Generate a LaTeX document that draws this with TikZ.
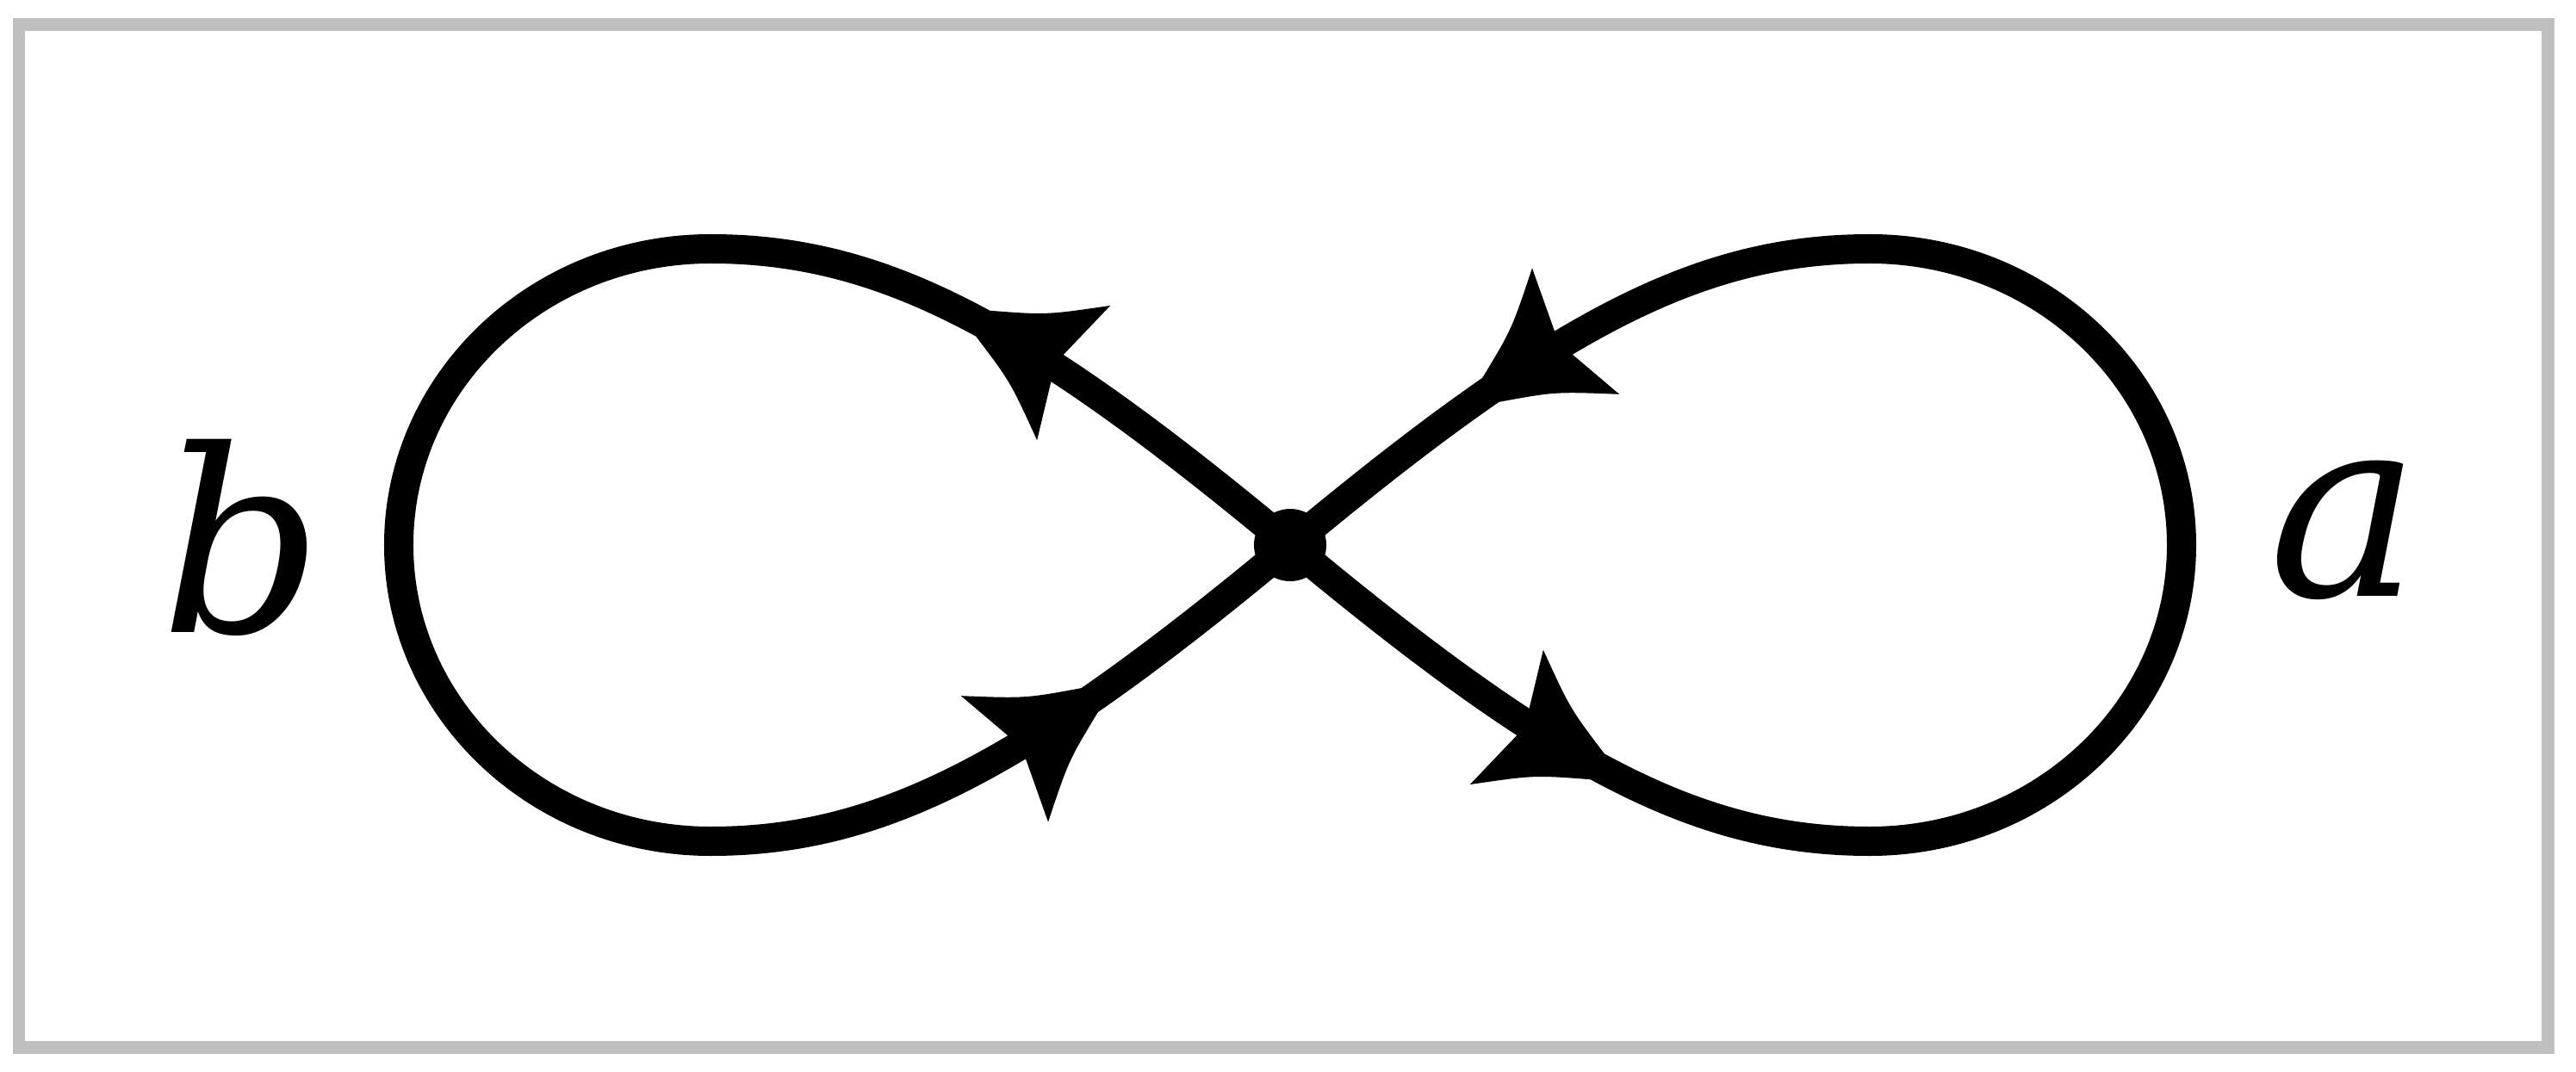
\documentclass[tikz,border=0pt]{standalone}
\usepackage{fontspec}
\newfontfamily\lblfont{DejaVu Serif}
\usetikzlibrary{decorations.markings}

\definecolor{boxgray}{RGB}{191,191,191}

\newcommand{\loophead}{\path[fill=black] (0.05,0) -- (0,0.17) .. controls (-0.6,0.44) .. (-1.2,0.89) -- (-0.96,0) -- (-1.2,-0.89) .. controls (-0.6,-0.44) .. (0,-0.17) -- cycle;}

\begin{document}
\begin{tikzpicture}[
    edge/.style={line width=0.34cm},
    vertex/.style={circle,fill=black,inner sep=0pt,minimum size=0.84cm},
    lbl/.style={font=\fontsize{84}{90}\lblfont\itshape}
  ]

    \useasboundingbox (-14.98,-6.11) rectangle (14.93,6.33);
    \draw[boxgray,line width=0.145cm] (-14.76,6.045) rectangle (14.605,-5.835);

    \node[vertex] (v) at (0,0) {};
    \node[lbl] (b) at (-12.17,0.09) {b};
    \node[lbl] (a) at (12.24,0.17) {a};

    \draw[edge,postaction={decorate},decoration={markings,
        mark=at position 0.166 with {\loophead},
        mark=at position 0.889 with {\loophead}}]
        (v.center) .. controls (-3.06,2.55) and (-4.73,3.44) .. (-6.73,3.44)
        arc[start angle=90,end angle=270,x radius=3.62,y radius=3.44]
        .. controls (-4.73,-3.44) and (-3.06,-2.55) .. (v.center);

    \draw[edge,postaction={decorate},decoration={markings,
        mark=at position 0.166 with {\loophead},
        mark=at position 0.889 with {\loophead}}]
        (v.center) .. controls (3.06,-2.55) and (4.73,-3.44) .. (6.73,-3.44)
        arc[start angle=-90,end angle=90,x radius=3.62,y radius=3.44]
        .. controls (4.73,3.44) and (3.06,2.55) .. (v.center);

\end{tikzpicture}
\end{document}
